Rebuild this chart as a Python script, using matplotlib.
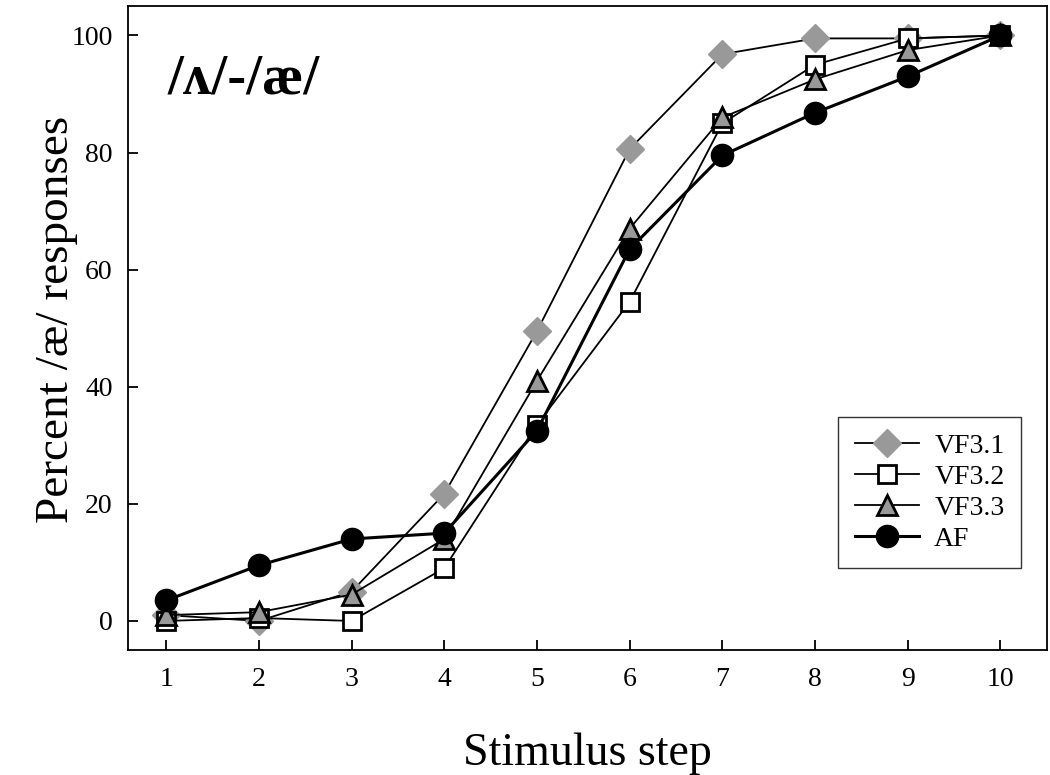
#!/usr/bin/env python3
import matplotlib
matplotlib.use('Agg')
import matplotlib.pyplot as plt

plt.rcParams['font.family'] = ['Liberation Serif', 'DejaVu Serif']

steps = [1, 2, 3, 4, 5, 6, 7, 8, 9, 10]
vf31 = [1.0, 0.0, 5.0, 21.7, 49.5, 80.6, 96.8, 99.5, 99.5, 100.0]
vf32 = [0.0, 0.5, 0.0, 9.0, 33.5, 54.5, 85.0, 95.0, 99.5, 100.0]
vf33 = [1.0, 1.5, 4.5, 14.0, 41.0, 67.0, 86.0, 92.5, 97.5, 100.0]
af = [3.5, 9.5, 14.0, 15.0, 32.5, 63.5, 79.5, 86.8, 93.0, 100.0]

gray = '#999999'

fig = plt.figure(figsize=(10.5, 7.75), dpi=100)
ax = fig.add_axes([0.122, 0.161, 0.875, 0.831])

ax.plot(steps, vf31, color='black', lw=1.3, marker='D', ms=14,
        mfc=gray, mec=gray, label='VF3.1')
ax.plot(steps, vf32, color='black', lw=1.3, marker='s', ms=13,
        mfc='white', mec='black', mew=2, label='VF3.2')
ax.plot(steps, vf33, color='black', lw=1.3, marker='^', ms=15,
        mfc=gray, mec='black', mew=2, label='VF3.3')
ax.plot(steps, af, color='black', lw=2.2, marker='o', ms=16,
        mfc='black', mec='black', label='AF')

ax.set_xlim(0.59, 10.5)
ax.set_ylim(-5, 105)
ax.set_xticks(steps)
ax.set_yticks([0, 20, 40, 60, 80, 100])
ax.tick_params(direction='in', length=7, width=1.3, labelsize=20)
ax.tick_params(axis='x', pad=12)
ax.tick_params(axis='y', pad=11)
for s in ax.spines.values():
    s.set_linewidth(1.3)

# axis titles placed by baseline
fig.text(0.559, 0.013, 'Stimulus step', fontsize=33, ha='center', va='baseline')
fig.text(0.065, 0.588, 'Percent /æ/ responses', fontsize=34, rotation=90,
         rotation_mode='anchor', ha='center', va='baseline')

fig.text(0.16, 0.88, '/ʌ/-/æ/', fontsize=41, fontweight='bold',
         ha='left', va='baseline')

leg = ax.legend(loc='lower right', bbox_to_anchor=(0.972, 0.127),
                borderaxespad=0, fontsize=20, frameon=True, fancybox=False,
                handlelength=2.3, handletextpad=0.55, borderpad=0.6,
                labelspacing=0.2)
leg.get_frame().set_edgecolor('black')
leg.get_frame().set_linewidth(1.0)

fig.savefig('out.png', dpi=100)
